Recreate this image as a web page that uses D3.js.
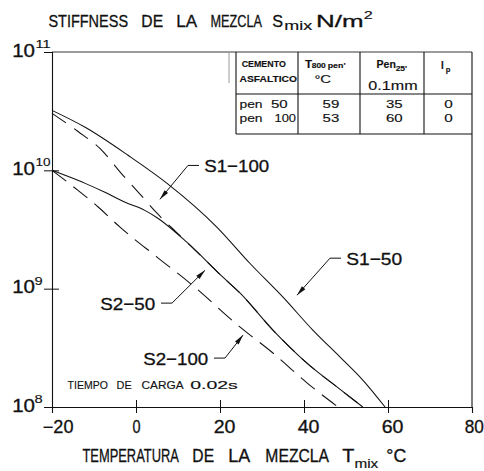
<!DOCTYPE html>
<html>
<head>
<meta charset="utf-8">
<script src="https://cdn.jsdelivr.net/npm/d3@7"></script>
<style>
  body { margin: 0; background: #fff; }
  svg { display: block; }
  text { font-family: "Liberation Sans", Arial, sans-serif; fill: #111; }
</style>
</head>
<body>
<svg id="chart" width="484" height="471"></svg>
<script>
// Mix temperature (°C) and mix stiffness (N/m²) for each curve
const tempS1_50  = [-20, -12.1, -1.9, 7.4, 19.3, 27.1, 35.0, 42.1, 48.6, 54.0, 59.3];
const stiffS1_50 = [3.21e10, 2.31e10, 1.34e10, 7.76e9, 3.30e9, 1.64e9, 8.47e8, 4.47e8, 2.64e8, 1.69e8, 1.0e8];

const tempS1_100  = [-20, -13.8, -8.6, -3.1, 1.0, 5.0, 8.6, 12.1, 20.7, 24.8, 32.6, 40.7, 48.6, 54.0];
const stiffS1_100 = [3.03e10, 2.13e10, 1.53e10, 9.08e9, 6.27e9, 4.34e9, 3.24e9, 2.47e9, 1.25e9, 9.16e8, 4.47e8, 2.35e8, 1.41e8, 1.0e8];

const tempS2_50  = [-20, -16.9, -12.1, -7.4, -2.6, 2.1, 5.2, 12.1, 20.7, 24.8, 32.6, 40.7, 48.6, 54.0];
const stiffS2_50 = [1.0e10, 9.08e9, 7.76e9, 6.52e9, 5.37e9, 4.59e9, 3.94e9, 2.47e9, 1.25e9, 9.16e8, 4.47e8, 2.35e8, 1.41e8, 1.0e8];

const tempS2_100  = [-20, -13.8, -9.0, -3.8, 5.0, 12.9, 24.8, 32.6, 40.7, 48.1];
const stiffS2_100 = [1.0e10, 6.76e9, 4.90e9, 3.31e9, 1.85e9, 1.11e9, 4.73e8, 2.86e8, 1.60e8, 1.0e8];

// Axis ticks
const xTickValues = [-20, 0, 20, 40, 60, 80];
const yDecades = [8, 9, 10, 11];

// Binder table
const cementos = ["pen 50", "pen 100"];
const t800 = [59, 53];
const pen25 = [35, 60];
const ipValues = [0, 0];

// ---------------------------------------------------------------
const svg = d3.select("#chart");
const plot = { left: 52, right: 472, top: 52, bottom: 407 };

const x = d3.scaleLinear().domain([-20, 80]).range([plot.left, plot.right]);
const y = d3.scaleLog().domain([1e8, 1e11]).range([plot.bottom, plot.top]);

// Text whose ink runs from x0 to x1: drawn at natural size, then scaled horizontally
function fitText(g, txt, x0, x1, baseline, size, weight) {
  const t = g.append("text")
    .attr("x", 0).attr("y", 0)
    .attr("text-anchor", "start")
    .attr("font-size", size)
    .attr("font-weight", weight || 400)
    .attr("stroke", "#111")
    .attr("stroke-width", size >= 14 ? 0.3 : 0.15)
    .text(txt);
  const bb = t.node().getBBox();
  const w = Math.max(0.5, bb.width - size * 0.08);
  const sx = (x1 - x0 + 0.5) / w;
  t.attr("transform", `translate(${x0 - size * 0.04 * sx},${baseline}) scale(${sx},1)`);
  return t;
}
function fitWords(g, words, baseline, size, weight) {
  words.forEach(([w, a, b]) => fitText(g, w, a, b, baseline, size, weight));
}

// Frame
const frame = svg.append("g");
frame.append("line").attr("x1", plot.left).attr("x2", plot.right)
  .attr("y1", plot.top).attr("y2", plot.top)
  .attr("stroke", "#7a7a7a").attr("stroke-width", 1.4);
frame.append("line").attr("x1", plot.right).attr("x2", plot.right)
  .attr("y1", plot.top).attr("y2", plot.bottom)
  .attr("stroke", "#111").attr("stroke-width", 1.1);

// Bottom axis
const xAxis = svg.append("g")
  .attr("transform", `translate(0,${plot.bottom})`)
  .call(d3.axisBottom(x).tickValues(xTickValues).tickSize(6).tickFormat(""));
xAxis.select(".domain").attr("stroke", "#111").attr("stroke-width", 1.1);
xAxis.selectAll(".tick line")
  .attr("y1", -7).attr("y2", 6)
  .attr("stroke", "#111")
  .attr("display", d => (d === -20 || d === 80) ? "none" : null);
xAxis.selectAll(".tick").each(function (d) {
  const s = d < 0 ? "\u2212" + Math.abs(d) : String(d);
  let a, b;
  if (d < 0) { a = -9; b = 20; }
  else if (d === 0) { a = -3.3; b = 3.3; }
  else if (d === 80) { a = -7; b = 10.5; }
  else { a = -6; b = 14; }
  fitText(d3.select(this), s, a, b, 26, 17.5);
});

// Left axis (log, powers of ten)
const yAxis = svg.append("g")
  .attr("transform", `translate(${plot.left},0)`)
  .call(d3.axisLeft(y).tickValues(yDecades.map(e => Math.pow(10, e))).tickSize(8).tickFormat(""));
yAxis.select(".domain").attr("stroke", "#111").attr("stroke-width", 1.1);
yAxis.selectAll(".tick line")
  .attr("x1", -8).attr("x2", 7)
  .attr("stroke", "#111")
  .attr("display", d => (d === 1e8 || d === 1e11) ? "none" : null);
yAxis.selectAll(".tick").each(function (d) {
  const e = String(Math.round(Math.log10(d)));
  const g = d3.select(this);
  fitText(g, "10", -39, -18, 4, 17.5);
  if (e.length === 2) fitText(g, e, -16, -2.5, -4.5, 11.5);
  else fitText(g, e, -17, -10.5, -4.5, 11.5);
});

// Curves
const line = d3.line()
  .x(d => x(d[0]))
  .y(d => y(d[1]))
  .curve(d3.curveMonotoneX);

const curves = [
  { t: tempS2_100, s: stiffS2_100, dash: "18 9" },
  { t: tempS1_100, s: stiffS1_100, dash: "17 10" },
  { t: tempS2_50,  s: stiffS2_50,  dash: null },
  { t: tempS1_50,  s: stiffS1_50,  dash: null }
];
svg.append("g").selectAll("path")
  .data(curves)
  .join("path")
  .attr("d", c => line(d3.zip(c.t, c.s)))
  .attr("fill", "none")
  .attr("stroke", "#111")
  .attr("stroke-width", 1.05)
  .attr("stroke-dasharray", c => c.dash);

// Curve call-outs: arrow tip and leader elbow in data units
const callouts = [
  { label: "S1\u2212100", tip: [5.7, 5.69e9],  elbow: [12.38, 1.10e10], dir: 1,  width: 63 },
  { label: "S1\u221250",  tip: [38.33, 8.81e8], elbow: [46.19, 1.81e9], dir: 1,  width: 54 },
  { label: "S2\u221250",  tip: [16.43, 1.43e9], elbow: [8.57, 7.55e8],  dir: -1, width: 53 },
  { label: "S2\u2212100", tip: [25.48, 4.05e8], elbow: [21.19, 2.59e8], dir: -1, width: 63 }
];
const ann = svg.append("g");
callouts.forEach(c => {
  const tx = x(c.tip[0]), ty = y(c.tip[1]);
  const ex = x(c.elbow[0]), ey = y(c.elbow[1]);
  const tailX = ex + 11 * c.dir;
  ann.append("path")
    .attr("d", `M${tailX},${ey}L${ex},${ey}L${tx},${ty}`)
    .attr("fill", "none").attr("stroke", "#111").attr("stroke-width", 1);
  // filled arrowhead
  const ang = Math.atan2(ty - ey, tx - ex);
  const len = 10, hw = 2.3;
  const bx = tx - len * Math.cos(ang), by = ty - len * Math.sin(ang);
  const nx = -Math.sin(ang) * hw, ny = Math.cos(ang) * hw;
  ann.append("path")
    .attr("d", `M${tx},${ty}L${bx + nx},${by + ny}L${bx - nx},${by - ny}Z`)
    .attr("fill", "#111");
  const x0 = c.dir > 0 ? tailX + 6 : tailX - 7 - c.width;
  fitText(ann, c.label, x0, x0 + c.width, ey + 7, 17);
});

// Loading time note
fitWords(svg, [["TIEMPO", 68, 107], ["DE", 117, 131], ["CARGA", 142, 183], ["0.02s", 191, 237]], 388.5, 11.5);

// Titles
fitWords(svg, [["STIFFNESS", 49, 127], ["DE", 142, 162], ["LA", 177, 196], ["MEZCLA", 211, 261], ["S", 273, 282]], 27, 16.5);
fitText(svg, "mix", 285, 311, 29.5, 12);
fitText(svg, "N/m", 317, 362, 27, 16.5);
fitText(svg, "2", 364.5, 372, 18.5, 10.5);

fitWords(svg, [["TEMPERATURA", 83, 178], ["DE", 193, 213], ["LA", 229, 249], ["MEZCLA", 266, 328], ["T", 343, 353]], 462, 18);
fitText(svg, "mix", 355, 378, 467.5, 12.5);
fitText(svg, "°C", 387, 405, 462, 18);

// Binder properties table
const tbl = svg.append("g");
const colX = [236, 298, 360, 424, plot.right];
const rowY = [plot.top, 94, 134];
tbl.append("line").attr("x1", 229).attr("x2", 229).attr("y1", plot.top).attr("y2", 83)
  .attr("stroke", "#9a9a9a").attr("stroke-width", 1);
colX.slice(0, 4).forEach(cx => {
  tbl.append("line").attr("x1", cx).attr("x2", cx).attr("y1", plot.top).attr("y2", rowY[2])
    .attr("stroke", "#111").attr("stroke-width", 1.1);
});
rowY.slice(1).forEach(ry => {
  tbl.append("line").attr("x1", colX[0]).attr("x2", plot.right).attr("y1", ry).attr("y2", ry)
    .attr("stroke", "#111").attr("stroke-width", 1.1);
});

fitText(tbl, "CEMENTO", 242, 285, 67, 9.5, 700);
fitText(tbl, "ASFALTICO", 240, 296, 82, 9.5, 700);
fitText(tbl, "T", 305.5, 311.5, 68.3, 11, 700);
fitText(tbl, "800", 312, 325, 68.3, 7.5, 700);
fitText(tbl, "pen'", 328, 345, 68.3, 7.5, 700);
fitText(tbl, "°C", 315, 330, 83, 11.5);
fitText(tbl, "Pen", 377, 395, 68.3, 10.5, 700);
fitText(tbl, "25'", 396, 406.5, 70.5, 7.5, 700);
fitText(tbl, "0.1mm", 369, 416.5, 90, 12.5);
fitText(tbl, "I", 441.5, 443, 69, 10.5, 700);
fitText(tbl, "p", 446, 450, 71.5, 7.5, 700);

const rowBase = [108.3, 122.3];
const valueCx = [330.7, 394, 448.3];
cementos.forEach((name, i) => {
  const [word, num] = name.split(" ");
  fitText(tbl, word, 240, 261.5, rowBase[i], 11.5);
  if (num.length === 2) fitText(tbl, num, 271.5, 286.5, rowBase[i], 11.5);
  else fitText(tbl, num, 275, 295, rowBase[i], 11.5);
  [t800[i], pen25[i], ipValues[i]].forEach((v, j) => {
    const s = String(v);
    const half = s.length > 1 ? 7.5 : 3.4;
    fitText(tbl, s, valueCx[j] - half, valueCx[j] + half, rowBase[i], 11.5);
  });
});
</script>
</body>
</html>
